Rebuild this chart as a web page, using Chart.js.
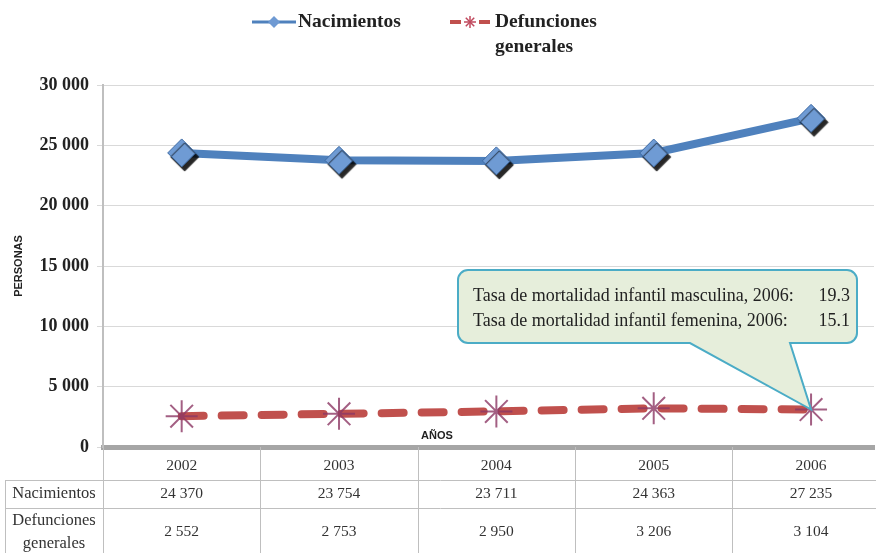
<!DOCTYPE html>
<html>
<head>
<meta charset="utf-8">
<script src="https://cdn.jsdelivr.net/npm/chart.js@4"></script>
<style>
  html, body { margin: 0; padding: 0; overflow: hidden; background: #fff; }
  #wrap { width: 876px; height: 553px; }
</style>
</head>
<body>
<div id="wrap"><canvas id="lineChart" width="876" height="553"></canvas></div>
<script>
var years = ['2002', '2003', '2004', '2005', '2006'];
var nacimientos = [24370, 23754, 23711, 24363, 27235];
var defunciones = [2552, 2753, 2950, 3206, 3104];
var rowLabels = [['Nacimientos'], ['Defunciones', 'generales']];
var calloutLines = [
    ['Tasa de mortalidad infantil masculina, 2006:', '19.3'],
    ['Tasa de mortalidad infantil femenina, 2006:', '15.1']
];

var BLUE = '#4f81bd';
var RED = '#c0504d';
var SERIF = '"Liberation Serif", "DejaVu Serif", serif';
var SANS = '"Liberation Sans", Arial, sans-serif';

function fmt(v) {
    return String(v).replace(/\B(?=(\d{3})+(?!\d))/g, ' ');
}
// the original chart is cut off at the right edge, so the last column is partly hidden
function pts(arr) {
    return arr.map(function (v, i) { return { x: i, y: v }; });
}

var extras = {
    id: 'extras',
    beforeDatasetDraw: function (chart, args) {
        var ctx = chart.ctx;
        ctx.save();
        if (args.index === 0) {
            ctx.shadowColor = 'rgba(0,0,0,0.85)';
            ctx.shadowOffsetX = 3;
            ctx.shadowOffsetY = 4;
            ctx.shadowBlur = 1;
        }
    },
    afterDatasetDraw: function (chart) {
        chart.ctx.restore();
    },
    afterDatasetsDraw: function (chart) {
        var ctx = chart.ctx;
        var x = chart.scales.x, y = chart.scales.y;
        // callout
        var tipX = x.getPixelForValue(4), tipY = y.getPixelForValue(defunciones[4]);
        var bx = 458, by = 270, bw = 399, bh = 73, r = 10;
        ctx.save();
        ctx.beginPath();
        ctx.moveTo(bx + r, by);
        ctx.lineTo(bx + bw - r, by);
        ctx.arcTo(bx + bw, by, bx + bw, by + r, r);
        ctx.lineTo(bx + bw, by + bh - r);
        ctx.arcTo(bx + bw, by + bh, bx + bw - r, by + bh, r);
        ctx.lineTo(790, by + bh);
        ctx.lineTo(tipX, tipY);
        ctx.lineTo(690, by + bh);
        ctx.lineTo(bx + r, by + bh);
        ctx.arcTo(bx, by + bh, bx, by + bh - r, r);
        ctx.lineTo(bx, by + r);
        ctx.arcTo(bx, by, bx + r, by, r);
        ctx.closePath();
        ctx.fillStyle = '#e6eedb';
        ctx.fill();
        ctx.lineWidth = 2;
        ctx.strokeStyle = '#4bacc6';
        ctx.stroke();
        ctx.fillStyle = '#222';
        ctx.font = '18px ' + SERIF;
        ctx.textBaseline = 'middle';
        calloutLines.forEach(function (ln, i) {
            ctx.textAlign = 'left';
            ctx.fillText(ln[0], 473, 296 + i * 25);
            ctx.textAlign = 'right';
            ctx.fillText(ln[1], 850, 296 + i * 25);
        });
        ctx.restore();
    },
    afterDraw: function (chart) {
        var ctx = chart.ctx;
        var x = chart.scales.x;
        var area = chart.chartArea;
        ctx.save();

        // legend
        ctx.lineCap = 'butt';
        ctx.strokeStyle = BLUE;
        ctx.lineWidth = 3;
        ctx.beginPath(); ctx.moveTo(252, 22); ctx.lineTo(296, 22); ctx.stroke();
        ctx.fillStyle = '#6f9ad3';
        ctx.beginPath();
        ctx.moveTo(274, 16); ctx.lineTo(280, 22); ctx.lineTo(274, 28); ctx.lineTo(268, 22);
        ctx.closePath(); ctx.fill();
        ctx.strokeStyle = RED;
        ctx.lineWidth = 4;
        ctx.beginPath(); ctx.moveTo(450, 22); ctx.lineTo(461, 22); ctx.stroke();
        ctx.beginPath(); ctx.moveTo(479, 22); ctx.lineTo(490, 22); ctx.stroke();
        ctx.lineWidth = 1.5;
        ctx.strokeStyle = '#c04a5e';
        for (var a = 0; a < 4; a++) {
            var ang = a * Math.PI / 4;
            ctx.beginPath();
            ctx.moveTo(470 - 6 * Math.cos(ang), 22 - 6 * Math.sin(ang));
            ctx.lineTo(470 + 6 * Math.cos(ang), 22 + 6 * Math.sin(ang));
            ctx.stroke();
        }
        ctx.fillStyle = '#222';
        ctx.font = 'bold 19.5px ' + SERIF;
        ctx.textAlign = 'left';
        ctx.textBaseline = 'middle';
        ctx.fillText('Nacimientos', 298, 22);
        ctx.fillText('Defunciones', 495, 22);
        ctx.fillText('generales', 495, 47);

        // axis titles
        ctx.font = 'bold 11px ' + SANS;
        ctx.textAlign = 'center';
        ctx.fillText('AÑOS', 437, 436);
        ctx.save();
        ctx.translate(19, 266);
        ctx.rotate(-Math.PI / 2);
        ctx.fillText('PERSONAS', 0, 0);
        ctx.restore();

        // data table
        var top = area.bottom, r1 = 480, r2 = 508, bot = 553;
        ctx.strokeStyle = '#bfbfbf';
        ctx.lineWidth = 1;
        ctx.beginPath();
        ctx.moveTo(5, r1 + 0.5); ctx.lineTo(chart.width, r1 + 0.5);
        ctx.moveTo(5, r2 + 0.5); ctx.lineTo(chart.width, r2 + 0.5);
        ctx.moveTo(5.5, r1); ctx.lineTo(5.5, bot);
        for (var i = 0; i <= years.length; i++) {
            var lx = Math.round(x.getPixelForValue(i - 0.5)) + 0.5;
            ctx.moveTo(lx, top); ctx.lineTo(lx, bot);
        }
        ctx.stroke();

        ctx.fillStyle = '#333';
        ctx.font = '15.5px ' + SERIF;
        ctx.textAlign = 'center';
        years.forEach(function (yr, i) {
            var cx = x.getPixelForValue(i);
            ctx.fillText(yr, cx, 466);
            ctx.fillText(fmt(nacimientos[i]), cx, 494);
            ctx.fillText(fmt(defunciones[i]), cx, 532);
        });
        ctx.font = '16.5px ' + SERIF;
        ctx.fillText(rowLabels[0][0], 54, 494);
        ctx.fillText(rowLabels[1][0], 54, 521);
        ctx.fillText(rowLabels[1][1], 54, 544);
        ctx.restore();
    }
};

var ctx = document.getElementById('lineChart').getContext('2d');
var chart = new Chart(ctx, {
    type: 'line',
    data: {
        datasets: [{
            label: 'Nacimientos',
            data: pts(nacimientos),
            showLine: false,
            pointStyle: 'rectRot',
            pointRadius: 14,
            pointBackgroundColor: '#6f9bd4',
            pointBorderColor: '#3d6aa3',
            pointBorderWidth: 1,
            order: 0
        }, {
            label: 'Defunciones generales',
            data: pts(defunciones),
            showLine: false,
            pointStyle: 'star',
            pointRadius: 16,
            pointBorderColor: 'rgba(140,55,100,0.8)',
            pointBorderWidth: 2,
            order: 0
        }, {
            label: 'Nacimientos linea',
            data: pts(nacimientos),
            borderColor: BLUE,
            borderWidth: 8,
            pointRadius: 0,
            tension: 0,
            order: 2
        }, {
            label: 'Defunciones linea',
            data: pts(defunciones),
            borderColor: RED,
            borderWidth: 8,
            borderDash: [22, 18],
            borderCapStyle: 'round',
            pointRadius: 0,
            tension: 0,
            order: 2
        }]
    },
    options: {
        responsive: false,
        animation: false,
        devicePixelRatio: 1,
        layout: { autoPadding: false, padding: { top: 85, right: 2, left: 0, bottom: 0 } },
        plugins: { legend: { display: false }, tooltip: { enabled: false } },
        scales: {
            x: {
                type: 'linear',
                min: -0.5,
                max: 4.4,
                grid: { display: false },
                border: { color: '#a6a6a6', width: 5 },
                ticks: { display: false },
                afterFit: function (s) { s.height = 106; }
            },
            y: {
                min: 0,
                max: 30000,
                ticks: {
                    stepSize: 5000,
                    padding: 8,
                    color: '#222',
                    font: { family: SERIF, size: 18, weight: 'bold' },
                    callback: function (v) { return fmt(v); }
                },
                grid: { color: '#d9d9d9', tickLength: 6 },
                border: { color: '#bfbfbf', width: 2 },
                afterFit: function (s) { s.width = 103; }
            }
        }
    },
    plugins: [extras]
});
</script>
</body>
</html>
